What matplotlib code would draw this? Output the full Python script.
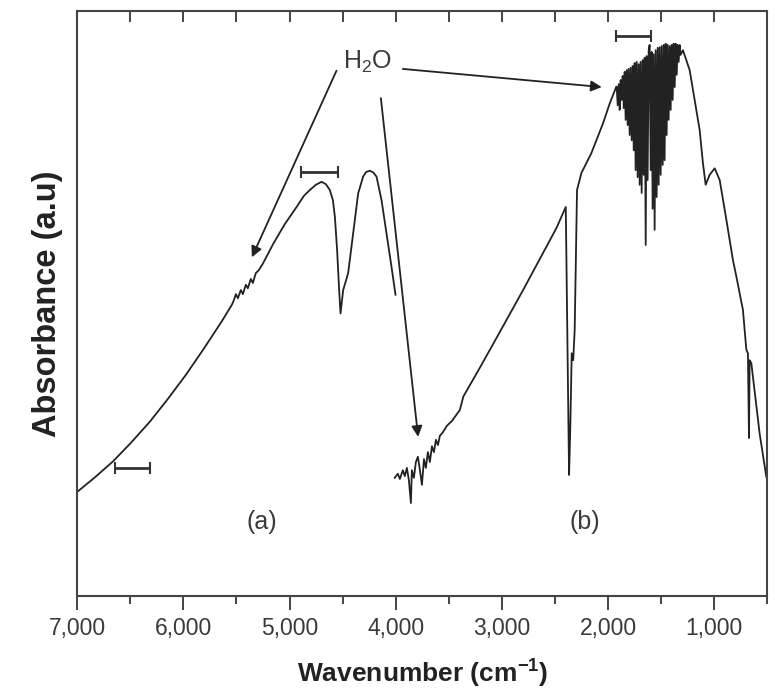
import matplotlib
matplotlib.use("Agg")
import matplotlib.pyplot as plt
from matplotlib.ticker import MultipleLocator, FuncFormatter

plt.rcParams['font.family'] = ['Liberation Sans', 'DejaVu Sans']
plt.rcParams['mathtext.fontset'] = 'custom'
plt.rcParams['mathtext.rm'] = 'Liberation Sans'
plt.rcParams['mathtext.bf'] = 'Liberation Sans:bold'

# spectrum (a): wavenumber (cm-1) and absorbance (a.u.)
wn_a = [7000, 6833, 6664, 6494, 6316, 6146, 5977, 5807, 5637, 5543,
        5524, 5506, 5487, 5459, 5440, 5412, 5393, 5365, 5346, 5318, 5290, 5252,
        5154, 5044, 4934, 4865, 4809, 4752, 4699, 4658, 4621, 4592, 4573, 4552,
        4533, 4520, 4495, 4448, 4401, 4354, 4307, 4277, 4244, 4211, 4181, 4134,
        4087, 4040, 4002]
abs_a = [0.178, 0.203, 0.230, 0.262, 0.298, 0.337, 0.378, 0.423, 0.470, 0.498,
         0.506, 0.516, 0.509, 0.523, 0.516, 0.532, 0.526, 0.542, 0.535, 0.552, 0.557, 0.568,
         0.602, 0.636, 0.665, 0.684, 0.694, 0.703, 0.708, 0.704, 0.694, 0.677, 0.648, 0.591,
         0.523, 0.483, 0.523, 0.552, 0.620, 0.688, 0.717, 0.725, 0.727, 0.724, 0.717, 0.677,
         0.620, 0.563, 0.515]

# spectrum (b)
wn_b = [4009, 3980, 3961, 3933, 3914, 3895, 3876, 3857, 3848, 3829, 3810, 3791,
        3772, 3753, 3734, 3716, 3697, 3678, 3659, 3640, 3621, 3602, 3584, 3555,
        3518, 3471, 3443, 3396, 3363, 3208, 3051, 2926, 2800, 2643, 2486, 2398,
        2384, 2367, 2356, 2342, 2328, 2314, 2292, 2251, 2157, 2047, 1984, 1921,
        1918, 1909, 1899, 1890, 1881, 1871, 1862, 1852, 1843, 1834, 1824, 1815,
        1806, 1796, 1787, 1777, 1768, 1758, 1749, 1740, 1730, 1721, 1711, 1702,
        1693, 1683, 1674, 1664, 1655, 1645, 1636, 1627, 1617, 1608, 1598, 1589,
        1580, 1570, 1561, 1551, 1542, 1532, 1523, 1514, 1504, 1495, 1485, 1476,
        1467, 1457, 1448, 1438, 1429, 1419, 1410, 1401, 1391, 1382, 1372, 1363,
        1353, 1344, 1335, 1325, 1316, 1294,
        1231, 1184, 1137, 1106, 1080, 1043, 995, 948, 885, 823, 791, 729, 697,
        682, 672, 666, 650, 572, 509]
abs_b = [0.202, 0.209, 0.200, 0.215, 0.205, 0.219, 0.198, 0.159, 0.215, 0.202, 0.229, 0.238,
         0.215, 0.190, 0.234, 0.219, 0.246, 0.229, 0.256, 0.246, 0.267, 0.258, 0.274, 0.280,
         0.291, 0.299, 0.306, 0.318, 0.341, 0.390, 0.441, 0.482, 0.523, 0.576, 0.629, 0.665,
         0.455, 0.207, 0.284, 0.415, 0.403, 0.455, 0.694, 0.723, 0.757, 0.808, 0.842, 0.871,
         0.870, 0.839, 0.875, 0.831, 0.882, 0.848, 0.889, 0.834, 0.896, 0.814, 0.899, 0.805,
         0.901, 0.788, 0.903, 0.779, 0.906, 0.762, 0.911, 0.728, 0.913, 0.716, 0.909, 0.703,
         0.913, 0.689, 0.916, 0.720, 0.920, 0.600, 0.923, 0.711, 0.933, 0.942, 0.728, 0.930,
         0.662, 0.926, 0.626, 0.933, 0.682, 0.937, 0.703, 0.938, 0.720, 0.940, 0.737, 0.942,
         0.745, 0.944, 0.788, 0.942, 0.814, 0.940, 0.831, 0.942, 0.848, 0.944, 0.870, 0.944,
         0.891, 0.942, 0.913, 0.942, 0.925, 0.933,
         0.899, 0.848, 0.797, 0.740, 0.703, 0.720, 0.731, 0.711, 0.643, 0.574, 0.546, 0.489, 0.421,
         0.415, 0.270, 0.403, 0.398, 0.278, 0.204]

# resolution bars (centre, half width, level)
bar_x = [6480, 4721, 1760]
bar_hw = [165, 173, 168]
bar_y = [0.218, 0.724, 0.957]

# H2O arrows: start -> tip
arrow_start = [(4558, 0.898), (4140, 0.851), (3933, 0.901)]
arrow_tip = [(5355, 0.579), (3789, 0.272), (2059, 0.870)]

line_c = '#222222'
text_c = '#3a3a3a'

fig = plt.figure(figsize=(7.75, 6.97), dpi=100)
ax = fig.add_axes([0.0997, 0.1449, 0.8903, 0.8393])

ax.plot(wn_a, abs_a, color=line_c, lw=1.3)
ax.plot(wn_b, abs_b, color=line_c, lw=1.3)

ax.errorbar(bar_x, bar_y, xerr=bar_hw, fmt='none', ecolor='#333333',
            elinewidth=2, capsize=4, capthick=1.5)

for s, t in zip(arrow_start, arrow_tip):
    ax.annotate('', xy=t, xytext=s,
                arrowprops=dict(arrowstyle='-|>', color=line_c, lw=1.3,
                                mutation_scale=16, shrinkA=0, shrinkB=0))

ax.text(4263, 0.913, 'H$_\\mathregular{2}$O', fontsize=18, color=text_c,
        ha='center', va='center')
ax.text(5260, 0.126, '(a)', fontsize=18, color=text_c, ha='center', va='center')
ax.text(2220, 0.126, '(b)', fontsize=18, color=text_c, ha='center', va='center')

ax.set_xlim(7000, 500)
ax.set_ylim(0, 1)
ax.set_yticks([])

ax.xaxis.set_major_locator(MultipleLocator(1000))
ax.xaxis.set_minor_locator(MultipleLocator(500))
ax.xaxis.set_major_formatter(FuncFormatter(lambda v, p: '{:,.0f}'.format(v)))
ax.tick_params(axis='x', which='both', direction='out', top=False,
               color='#444444', width=1.4, labelsize=16.5, labelcolor=text_c, pad=5)
ax.tick_params(axis='x', which='major', length=10)
ax.tick_params(axis='x', which='minor', length=6)

# top axis with inward ticks, no labels
top = ax.secondary_xaxis('top')
top.xaxis.set_major_locator(MultipleLocator(500))
top.tick_params(direction='in', length=8, width=1.4, color='#444444', labeltop=False)
top.spines['top'].set_visible(False)

for sp in ax.spines.values():
    sp.set_color('#444444')
    sp.set_linewidth(1.5)

ax.set_xlabel('Wavenumber (cm$^{\\mathbf{-1}}$)', fontsize=19, fontweight='bold',
              color='#222222', labelpad=12)
ax.set_ylabel('Absorbance (a.u)', fontsize=23.5, fontweight='bold', color='#222222',
              labelpad=10)

fig.savefig('out.png', dpi=100)
